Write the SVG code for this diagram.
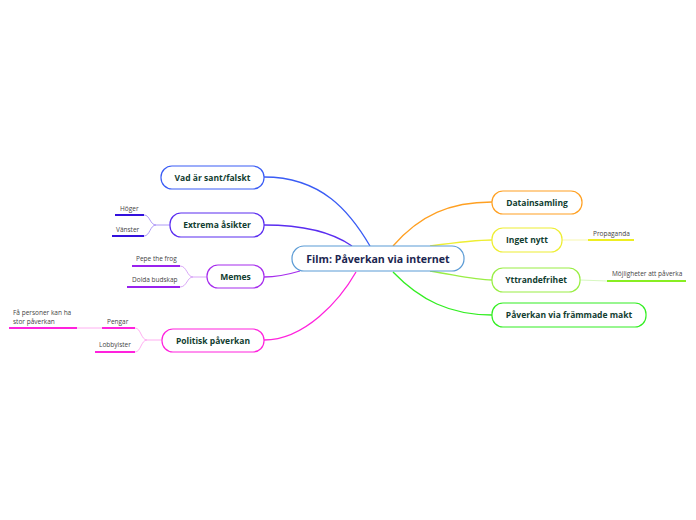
<svg xmlns="http://www.w3.org/2000/svg" width="696" height="520" viewBox="0 0 696 520">
<style>
.node{fill:#fff;stroke-width:1.2}
.t{font-family:"Open Sans","Noto Sans",sans-serif;font-weight:bold;font-size:8.5px;fill:#113d30;text-anchor:middle}
.ct{font-family:"Open Sans","Noto Sans",sans-serif;font-weight:bold;font-size:10.6px;fill:#1b2650;text-anchor:middle}
.s{font-family:"Open Sans","Noto Sans",sans-serif;font-size:6.5px;fill:#444}
.c{fill:none;stroke-width:1.3}
.u{fill:none;stroke-width:1.8}
.th{fill:none;stroke-width:0.8}
</style>
<rect width="696" height="520" fill="#fff"/>
<g id="connectors">
<path class="c" stroke="#3a5cf5" d="M264,177 C322,177 350,212 370,246"/>
<path class="c" stroke="#5a2df0" d="M264,225 C305,225 332,232 352,246"/>
<path class="c" stroke="#a62ded" d="M264,277 C278,277 290,274 300,271"/>
<path class="c" stroke="#ff22dd" d="M264,340 C305,340 340,300 356,272"/>
<path class="c" stroke="#ffa022" d="M393,246 C420,215 450,202 492,202"/>
<path class="c" stroke="#eeee33" d="M430,246 C460,242 475,240 492,240"/>
<path class="c" stroke="#99ee44" d="M430,271 C460,276 475,280 492,280"/>
<path class="c" stroke="#33ee22" d="M393,272 C420,300 450,315 492,315"/>
<path class="th" stroke="#f5f59a" d="M562,240 L588,240"/>
<path class="u" stroke="#eeee22" d="M588,240 L634,240"/>
<path class="th" stroke="#ccf5b0" d="M580,280 L607,281"/>
<path class="u" stroke="#88ee22" d="M607,281 L686,281"/>
<path class="th" stroke="#9a80f5" d="M170,225 L156,225 C150,225 150,215 144,215 M156,225 C150,225 150,236 144,236"/>
<path class="u" stroke="#3311dd" d="M115,215 L144,215 M112,236 L144,236"/>
<path class="th" stroke="#cf90f5" d="M207,277 L193,277 C187,277 187,266 180,266 M193,277 C187,277 187,287 180,287"/>
<path class="u" stroke="#9922ee" d="M132,266 L180,266 M127,287 L180,287"/>
<path class="th" stroke="#ff99ee" d="M162,340 L147,340 C141,340 141,328 135,328 M147,340 C141,340 141,352 135,352 M77,328 L102,328"/>
<path class="u" stroke="#ff22dd" d="M102,328 L135,328 M95,352 L135,352 M9,328 L77,328"/>
</g>
<g id="center"><rect class="node" x="292" y="246" width="172" height="25" rx="12" stroke="#5b9bd5" stroke-width="1.5"/><text class="ct" x="378" y="262.5">Film: Påverkan via internet</text></g>
<g id="n-vad"><rect class="node" x="161" y="166" width="103" height="23" rx="11" stroke="#3a5cf5"/><text class="t" x="212.5" y="180.5">Vad är sant/falskt</text></g>
<g id="n-extrema"><rect class="node" x="170" y="213" width="94" height="24" rx="11" stroke="#5a2df0"/><text class="t" x="217" y="228">Extrema åsikter</text></g>
<g id="n-memes"><rect class="node" x="207" y="265" width="57" height="23" rx="11" stroke="#a62ded"/><text class="t" x="235.5" y="279.5">Memes</text></g>
<g id="n-politisk"><rect class="node" x="162" y="329" width="102" height="23" rx="11" stroke="#ff22dd"/><text class="t" x="213" y="343.5">Politisk påverkan</text></g>
<g id="n-data"><rect class="node" x="492" y="191" width="90" height="23" rx="11" stroke="#ffa022"/><text class="t" x="537" y="205.5">Datainsamling</text></g>
<g id="n-inget"><rect class="node" x="492" y="228" width="70" height="24" rx="11" stroke="#eeee33"/><text class="t" x="527" y="243">Inget nytt</text></g>
<g id="n-ytt"><rect class="node" x="492" y="268" width="88" height="24" rx="11" stroke="#99ee44"/><text class="t" x="536" y="283">Yttrandefrihet</text></g>
<g id="n-makt"><rect class="node" x="492" y="303" width="154" height="24" rx="11" stroke="#33ee22"/><text class="t" x="569" y="318">Påverkan via främmade makt</text></g>
<g id="sub-propaganda"><text class="s" x="593" y="236">Propaganda</text></g>
<g id="sub-mojligheter"><text class="s" x="612" y="276">Möjligheter att påverka</text></g>
<g id="sub-hoger"><text class="s" x="120" y="211">Höger</text></g>
<g id="sub-vanster"><text class="s" x="116" y="232">Vänster</text></g>
<g id="sub-pepe"><text class="s" x="136" y="261">Pepe the frog</text></g>
<g id="sub-dolda"><text class="s" x="132" y="282">Dolda budskap</text></g>
<g id="sub-pengar"><text class="s" x="107" y="324">Pengar</text></g>
<g id="sub-lobby"><text class="s" x="99" y="347">Lobbyister</text></g>
<g id="sub-fa"><text class="s" x="13" y="315"><tspan x="13">Få personer kan ha</tspan><tspan x="13" dy="8.5">stor påverkan</tspan></text></g>
</svg>
